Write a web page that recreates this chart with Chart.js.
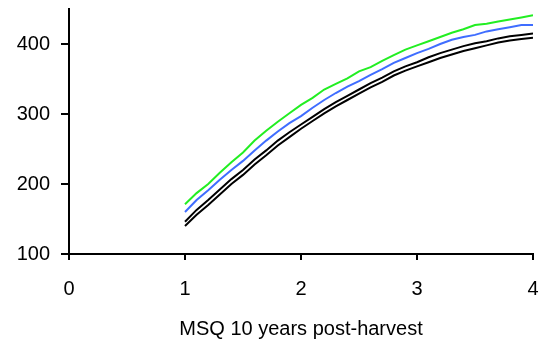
<!DOCTYPE html>
<html>
<head>
<meta charset="utf-8">
<script src="https://cdn.jsdelivr.net/npm/chart.js@4"></script>
<style>
  html, body { margin: 0; padding: 0; background: #fff; }
  canvas { display: block; }
</style>
</head>
<body>
<canvas id="chart" width="541" height="339"></canvas>
<script>
const years = [1.0, 1.1, 1.2, 1.3, 1.4, 1.5, 1.6, 1.7, 1.8, 1.9, 2.0,
  2.1, 2.2, 2.3, 2.4, 2.5, 2.6, 2.7, 2.8, 2.9, 3.0,
  3.1, 3.2, 3.3, 3.4, 3.5, 3.6, 3.7, 3.8, 3.9, 4.0];

const greenSeries = [171, 187, 200, 216, 231, 245, 262, 276, 289, 301, 313,
  323, 335, 343, 351, 361, 367, 376, 384, 392, 398,
  404, 410, 416, 421, 427, 429, 432, 435, 438, 441];

const blueSeries = [160, 177, 191, 206, 220, 233, 248, 262, 275, 287, 297,
  309, 320, 330, 339, 347, 356, 364, 373, 380, 387,
  393, 400, 406, 410, 413, 418, 421, 424, 427, 427];

const blackUpper = [146, 163, 177, 192, 207, 220, 235, 248, 262, 274, 285,
  296, 307, 317, 326, 335, 344, 352, 361, 368, 374,
  381, 387, 392, 397, 401, 404, 408, 411, 413, 415];

const blackLower = [140, 156, 170, 185, 200, 213, 228, 241, 255, 267, 279,
  290, 301, 311, 320, 329, 338, 346, 355, 362, 368,
  374, 380, 385, 390, 394, 398, 402, 405, 407, 409];

const xTicks = [0, 1, 2, 3, 4];
const yTicks = [100, 200, 300, 400];

const FONT = 'Liberation Sans, Arial, sans-serif';

const toPoints = (vals) => vals.map((v, i) => ({ x: years[i], y: v }));

const line = (vals, color) => ({
  data: toPoints(vals),
  borderColor: color,
  borderWidth: 2,
  pointRadius: 0,
  tension: 0,
  fill: false,
});

new Chart(document.getElementById('chart').getContext('2d'), {
  type: 'line',
  data: {
    datasets: [
      line(greenSeries, '#22ee22'),
      line(blueSeries, '#3f6dff'),
      line(blackUpper, '#000000'),
      line(blackLower, '#000000'),
    ],
  },
  options: {
    responsive: false,
    animation: false,
    layout: { padding: { top: 9, right: 8, left: 0, bottom: 0 } },
    plugins: {
      legend: { display: false },
      tooltip: { enabled: false },
    },
    scales: {
      x: {
        type: 'linear',
        min: 0,
        max: 4,
        afterBuildTicks: (s) => { s.ticks = xTicks.map((v) => ({ value: v })); },
        afterFit: (s) => {
          s.height = 85;
          // keep the plot edge where the reference has it
          s.paddingLeft = 0;
          s.paddingRight = 0;
        },
        grid: { drawOnChartArea: false, drawTicks: true, tickLength: 6, color: '#000', lineWidth: 2 },
        border: { display: true, color: '#000', width: 2 },
        ticks: { color: '#000', font: { family: FONT, size: 20 }, padding: 17, maxRotation: 0 },
        title: {
          display: true,
          text: 'MSQ 10 years post-harvest',
          color: '#000',
          font: { family: FONT, size: 20, lineHeight: 1 },
          padding: { top: 0, bottom: 0 },
        },
      },
      y: {
        type: 'linear',
        min: 100,
        max: 450,
        afterBuildTicks: (s) => { s.ticks = yTicks.map((v) => ({ value: v })); },
        afterFit: (s) => {
          s.width = 69;
          s.paddingTop = 0;
          s.paddingBottom = 0;
        },
        grid: { drawOnChartArea: false, drawTicks: true, tickLength: 8, color: '#000', lineWidth: 2 },
        border: { display: true, color: '#000', width: 2 },
        ticks: { color: '#000', font: { family: FONT, size: 20 }, padding: 11 },
      },
    },
  },
});
</script>
</body>
</html>
